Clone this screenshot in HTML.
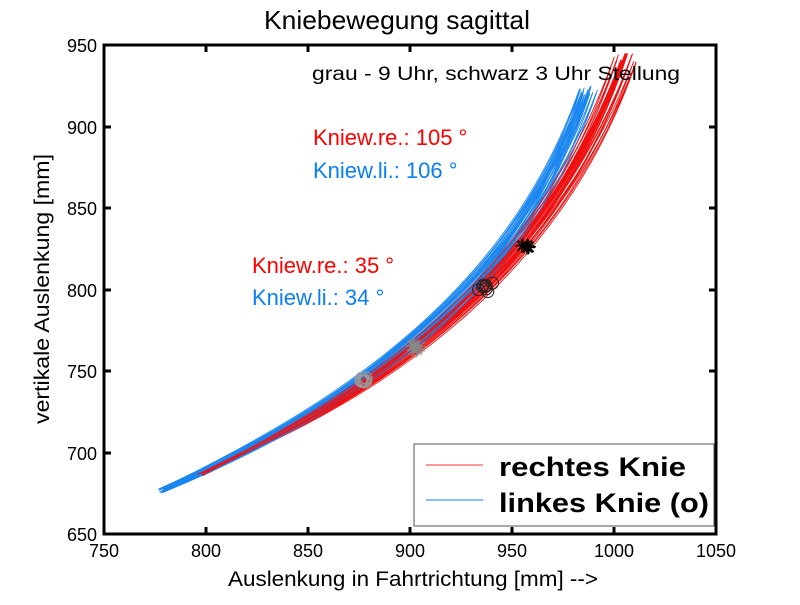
<!DOCTYPE html>
<html><head><meta charset="utf-8"><style>
body{margin:0;background:#fff;}
svg text{font-family:"Liberation Sans",sans-serif;}
</style></head><body>
<svg id="s" width="800" height="600" xmlns="http://www.w3.org/2000/svg">
<rect width="800" height="600" fill="#fff"/>
<g id="curves" fill="none" stroke-width="0.9"></g>
<g id="marks" fill="none"></g>
<rect x="104" y="45" width="612" height="489" fill="none" stroke="#000" stroke-width="3"/>
<g stroke="#000" stroke-width="3" id="ticks"></g>
<g font-size="18" fill="#000" text-anchor="middle">
<text x="104" y="557">750</text><text x="206" y="557">800</text><text x="308" y="557">850</text><text x="410" y="557">900</text><text x="512" y="557">950</text><text x="614" y="557">1000</text><text x="716" y="557">1050</text>
</g>
<g font-size="18" fill="#000" text-anchor="end">
<text x="97" y="52">950</text><text x="97" y="134">900</text><text x="97" y="215">850</text><text x="97" y="297">800</text><text x="97" y="378">750</text><text x="97" y="460">700</text><text x="97" y="541">650</text>
</g>
<text x="264" y="29" font-size="26" textLength="266" lengthAdjust="spacingAndGlyphs">Kniebewegung sagittal</text>
<text x="228" y="586" font-size="21" textLength="370" lengthAdjust="spacingAndGlyphs">Auslenkung in Fahrtrichtung [mm] --&gt;</text>
<text transform="translate(49,424) rotate(-90)" font-size="21" textLength="270" lengthAdjust="spacingAndGlyphs">vertikale Auslenkung [mm]</text>
<text x="312" y="80" font-size="19" textLength="368" lengthAdjust="spacingAndGlyphs">grau - 9 Uhr, schwarz 3 Uhr Stellung</text>
<text x="313" y="145" font-size="22" fill="#ff0000">Kniew.re.: 105 °</text>
<text x="313" y="178" font-size="22" fill="#0a7ff5">Kniew.li.: 106 °</text>
<text x="252" y="273" font-size="22" fill="#ff0000">Kniew.re.: 35 °</text>
<text x="252" y="305" font-size="22" fill="#0a7ff5">Kniew.li.: 34 °</text>
<rect x="414" y="444" width="300" height="82" fill="#fff" stroke="#555" stroke-width="1"/>
<line x1="426" y1="465" x2="483" y2="465" stroke="#f77" stroke-width="1.5"/>
<line x1="426" y1="500" x2="483" y2="500" stroke="#6af" stroke-width="1.5"/>
<text x="499" y="476" font-size="27" font-weight="bold" textLength="187" lengthAdjust="spacingAndGlyphs">rechtes Knie</text>
<text x="499" y="512" font-size="27" font-weight="bold" textLength="210" lengthAdjust="spacingAndGlyphs">linkes Knie (o)</text>
</svg>
<script>
var NS="http://www.w3.org/2000/svg";
function el(t,a,p){var e=document.createElementNS(NS,t);for(var k in a)e.setAttribute(k,a[k]);p.appendChild(e);return e;}
var tk=document.getElementById('ticks');
[206,308,410,512,614].forEach(function(x){el('line',{x1:x,y1:534,x2:x,y2:527},tk);el('line',{x1:x,y1:45,x2:x,y2:52},tk);});
[127,208,290,371,453].forEach(function(y){el('line',{x1:104,y1:y,x2:111,y2:y},tk);el('line',{x1:716,y1:y,x2:709,y2:y},tk);});
var g=document.getElementById('curves');
var seed=3;function r(){seed=(seed*9301+49297)%233280;return seed/233280-0.5;}
function fam(P,col,n,sp,o0,o1){
 for(var i=0;i<n;i++){
  var k=r();
  var d=[[P[0][0]+r()*6,P[0][1]+r()*4],[P[1][0]+k*sp,P[1][1]+k*sp*0.4],[P[2][0]+k*sp*1.5,P[2][1]+r()*6],[P[3][0]+k*sp*2,P[3][1]+r()*10]];
  var o=o0+r()*o1+o1/2;
  var s="M"+d[0]+" C"+d[1]+" "+d[2]+" "+d[3]+" C"+[d[2][0]+o,d[2][1]+o*0.6]+" "+[d[1][0]+o,d[1][1]+o*0.6]+" "+d[0]+"Z";
  el('path',{d:s,stroke:col},g);
 }
}
fam([[200,474],[350,400],[540,290],[625,58]],"#f01010",16,12,4,5);
fam([[161,491],[332,410],[512,300],[588,91]],"#1a86f0",16,10,6,6);
fam([[200,474],[350,400],[540,290],[625,58]],"#f01010",4,12,4,5);
var m=document.getElementById('marks');
function star(cx,cy,c){for(var a=0;a<4;a++){var an=a*Math.PI/4;el('line',{x1:cx-7*Math.cos(an),y1:cy-7*Math.sin(an),x2:cx+7*Math.cos(an),y2:cy+7*Math.sin(an),stroke:c},m);}}
for(var i=0;i<8;i++){el('circle',{cx:364+r()*8,cy:380+r()*4,r:6,stroke:"#999"},m);star(416+r()*8,348+r()*6,"#888");el('circle',{cx:486+r()*16,cy:288+r()*10,r:6,stroke:"#222"},m);}
for(var i=0;i<8;i++){star(526+r()*10,247+r()*4,"#000");}
</script>
</body></html>
